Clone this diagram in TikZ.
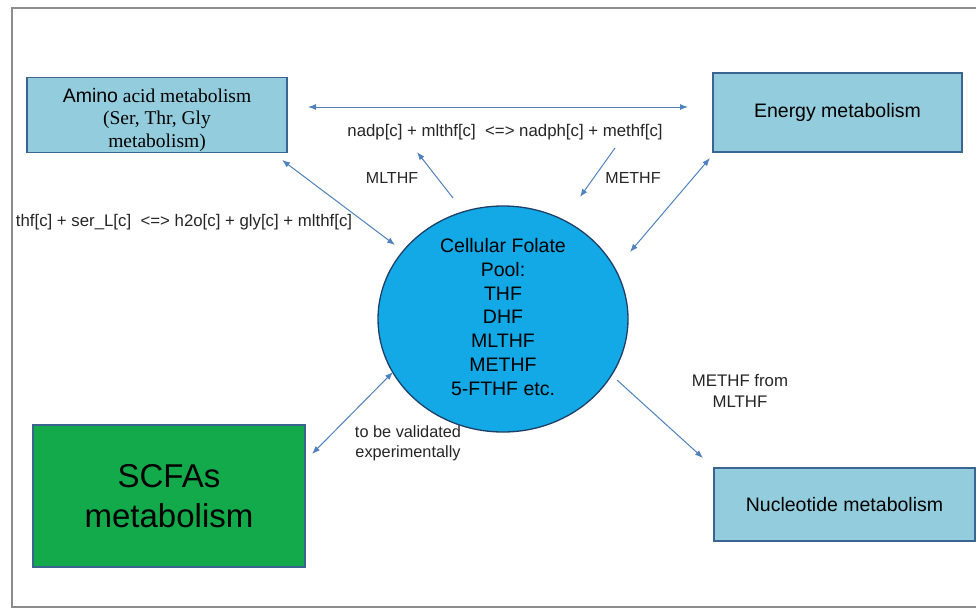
\documentclass[tikz,border=0pt]{standalone}
\usepackage{fontspec}
\setmainfont{Liberation Sans}
\newfontfamily\timesf{Liberation Serif}
\usetikzlibrary{shapes.geometric,arrows.meta}
\definecolor{arrowblue}{HTML}{4F81BD}
\definecolor{boxfill}{HTML}{93CDDD}
\definecolor{boxline}{HTML}{3B6591}
\definecolor{poolfill}{HTML}{12A9E6}
\definecolor{poolline}{HTML}{1F3F66}
\definecolor{scfafill}{HTML}{12AA4A}
\definecolor{framegray}{HTML}{8C8C8C}
\tikzset{
  metabox/.style={draw=boxline, line width=1.3pt, fill=boxfill, inner sep=0pt, align=center},
  conn/.style={draw=arrowblue, line width=1pt, -{Latex[length=8pt,width=6pt]}},
  dconn/.style={draw=arrowblue, line width=1pt, {Latex[length=8pt,width=6pt]}-{Latex[length=8pt,width=6pt]}},
  lbl/.style={inner sep=0pt, align=center, text=black!85, font=\fontsize{16.8}{21}\selectfont},
  big/.style={font=\fontsize{19.5}{23.5}\selectfont}
}
\begin{document}
\begin{tikzpicture}[x=1pt,y=-1pt]
\useasboundingbox (0,0) rectangle (976,610);
\fill[white] (0,0) rectangle (976,610);
% frame
\draw[framegray, line width=1.5pt] (976,8) -- (12,8) -- (12,607) -- (976,607);

% boxes
\node[metabox, minimum width=260pt, minimum height=75pt] (amino) at (157,115) {};
\node[inner sep=0pt, align=center, font=\fontsize{19.5}{22.5}\selectfont] (aminotext) at (157,120)
  {Amino\timesf{} acid metabolism\\ \timesf (Ser, Thr, Gly\\ \timesf metabolism)};
\node[metabox, minimum width=249pt, minimum height=79pt, big] (energy) at (837.5,112.5) {Energy metabolism};
\node[metabox, minimum width=261pt, minimum height=73pt, big] (nucleo) at (844.5,504.5) {Nucleotide metabolism};
\node[draw=boxline, line width=1.2pt, fill=scfafill, minimum width=272pt, minimum height=142pt, inner sep=0pt,
  align=center, font=\fontsize{33}{40}\selectfont] (scfa) at (169,496) {SCFAs\\metabolism};

% pool
\node[ellipse, draw=poolline, line width=1.3pt, fill=poolfill, minimum width=250pt, minimum height=226pt,
  inner sep=0pt] (pool) at (503,319) {};
\node[align=center, inner sep=0pt, font=\fontsize{19.5}{23.7}\selectfont] (pooltext) at (503,317)
  {Cellular Folate\\Pool:\\THF\\DHF\\MLTHF\\METHF\\5-FTHF etc.};

% labels
\node[lbl] (nadp) at (505,132) {nadp[c] + mlthf[c] \ <=> nadph[c] + methf[c]};
\node[lbl] (thf) at (184,222) {thf[c] + ser\_L[c] \ <=> h2o[c] + gly[c] + mlthf[c]};
\node[lbl, font=\fontsize{16}{21}\selectfont] (mlthf) at (392,178) {MLTHF};
\node[lbl, font=\fontsize{16}{21}\selectfont] (methf) at (633,178) {METHF};
\node[lbl, font=\fontsize{16.3}{20}\selectfont] (valid) at (408,443) {to be validated\\experimentally};
\node[lbl] (fromml) at (740,391) {METHF from\\MLTHF};

% connector end points
\coordinate (hL) at (308,107);
\coordinate (hR) at (688,107);
\coordinate (mlA) at (453,198);
\coordinate (mlB) at (417,152);
\coordinate (meA) at (615,148);
\coordinate (meB) at (580,197);
\coordinate (enA) at (630,252);
\coordinate (enB) at (710,158);
\coordinate (amA) at (282,160);
\coordinate (amB) at (395,245);
\coordinate (scA) at (312,454);
\coordinate (scB) at (393,372);
\coordinate (nuA) at (617,380);
\coordinate (nuB) at (703,458);

% connectors
\draw[dconn] (hL) -- (hR);
\draw[conn] (mlA) -- (mlB);
\draw[conn] (meA) -- (meB);
\draw[dconn] (enA) -- (enB);
\draw[dconn] (amA) -- (amB);
\draw[dconn] (scA) -- (scB);
\draw[conn] (nuA) -- (nuB);
\end{tikzpicture}
\end{document}
